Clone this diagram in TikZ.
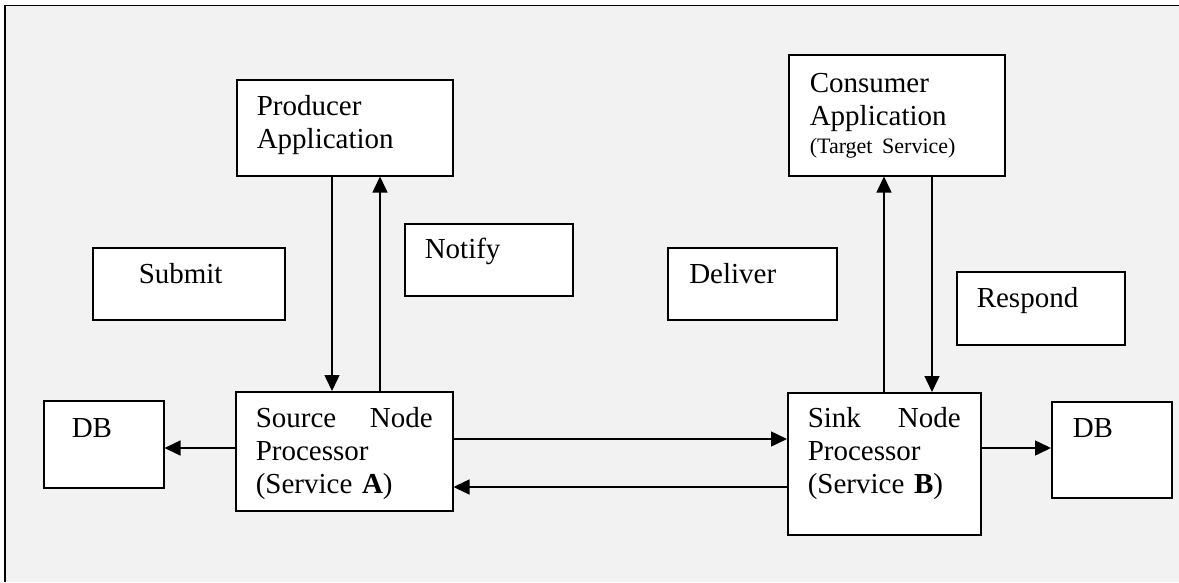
\documentclass[tikz,border=0pt]{standalone}
\usepackage{fontspec}
\setmainfont{Liberation Serif}
\usepackage{xcolor}
\usetikzlibrary{arrows.meta}

\definecolor{panel}{RGB}{242,242,242}
\newcommand{\txtbig}{\fontsize{29}{33}\selectfont}
\newcommand{\txtsmall}{\fontsize{22}{25}\selectfont}

\begin{document}
\begin{tikzpicture}[x=1pt,y=1pt,yscale=-1,
  blk/.style={draw, fill=white, line width=1.5pt, anchor=north west,
    inner ysep=0pt, align=left, font=\txtbig},
  arr/.style={-{Triangle[length=16pt,width=15pt]}, line width=1.5pt}]
\useasboundingbox (0,0) rectangle (1179,582);

%Panel behind the diagram
\fill[panel] (5,5.5) rectangle (1179,582);
\draw[line width=1.6pt] (5,582) -- (5,5.5) -- (1179,5.5);

%Applications
\node[blk, inner xsep=20pt, text width=176pt, text height=36pt, text depth=60pt] (prod) at (236,79) {Producer\\Application};
\node[blk, inner xsep=21pt, text width=174pt, text height=37.7pt, text depth=83.3pt] (cons) at (788,54) {Consumer\\Application\\[-5pt]\mbox{\txtsmall (Target Service)}};

%Operation labels
\node[blk, inner xsep=46pt, text width=100pt, text height=36pt, text depth=36pt] (submit) at (92,247) {Submit};
\node[blk, inner xsep=20pt, text width=128pt, text height=35pt, text depth=37pt] (notify) at (404,223) {Notify};
\node[blk, inner xsep=21.5pt, text width=126pt, text height=35.5pt, text depth=36.5pt] (deliver) at (667,247) {Deliver};
\node[blk, inner xsep=20pt, text width=128pt, text height=35.7pt, text depth=37.3pt] (respond) at (956,271) {Respond};

%Processors
\node[blk, inner xsep=20pt, text width=177pt, text height=35.7pt, text depth=83.3pt] (src) at (235,391) {Source\hfill Node\\Processor\\(Service \textbf{A})};
\node[blk, inner xsep=20pt, text width=153pt, text height=34.7pt, text depth=107.3pt] (sink) at (787,392) {Sink\hfill Node\\Processor\\(Service \textbf{B})};

%Stores
\node[blk, inner xsep=28pt, text width=64pt, text height=36.7pt, text depth=50.3pt] (dbl) at (43,400) {DB};
\node[blk, inner xsep=21pt, text width=78pt, text height=35.7pt, text depth=60.3pt] (dbr) at (1051,401) {DB};

%Lanes of the connectors
\coordinate (subline) at (332,0);
\coordinate (notline) at (380,0);
\coordinate (delline) at (884,0);
\coordinate (resline) at (932,0);
\coordinate (fwdline) at (0,439);
\coordinate (backline) at (0,487);
\coordinate (storeline) at (0,448);

%Connectors
\draw[arr] (prod.south -| subline) -- (src.north -| subline);
\draw[arr] (src.north -| notline) -- (prod.south -| notline);
\draw[arr] (sink.north -| delline) -- (cons.south -| delline);
\draw[arr] (cons.south -| resline) -- (sink.north -| resline);
\draw[arr] (src.east |- fwdline) -- (sink.west |- fwdline);
\draw[arr] (sink.west |- backline) -- (src.east |- backline);
\draw[arr] (src.west |- storeline) -- (dbl.east |- storeline);
\draw[arr] (sink.east |- storeline) -- (dbr.west |- storeline);

\end{tikzpicture}
\end{document}
